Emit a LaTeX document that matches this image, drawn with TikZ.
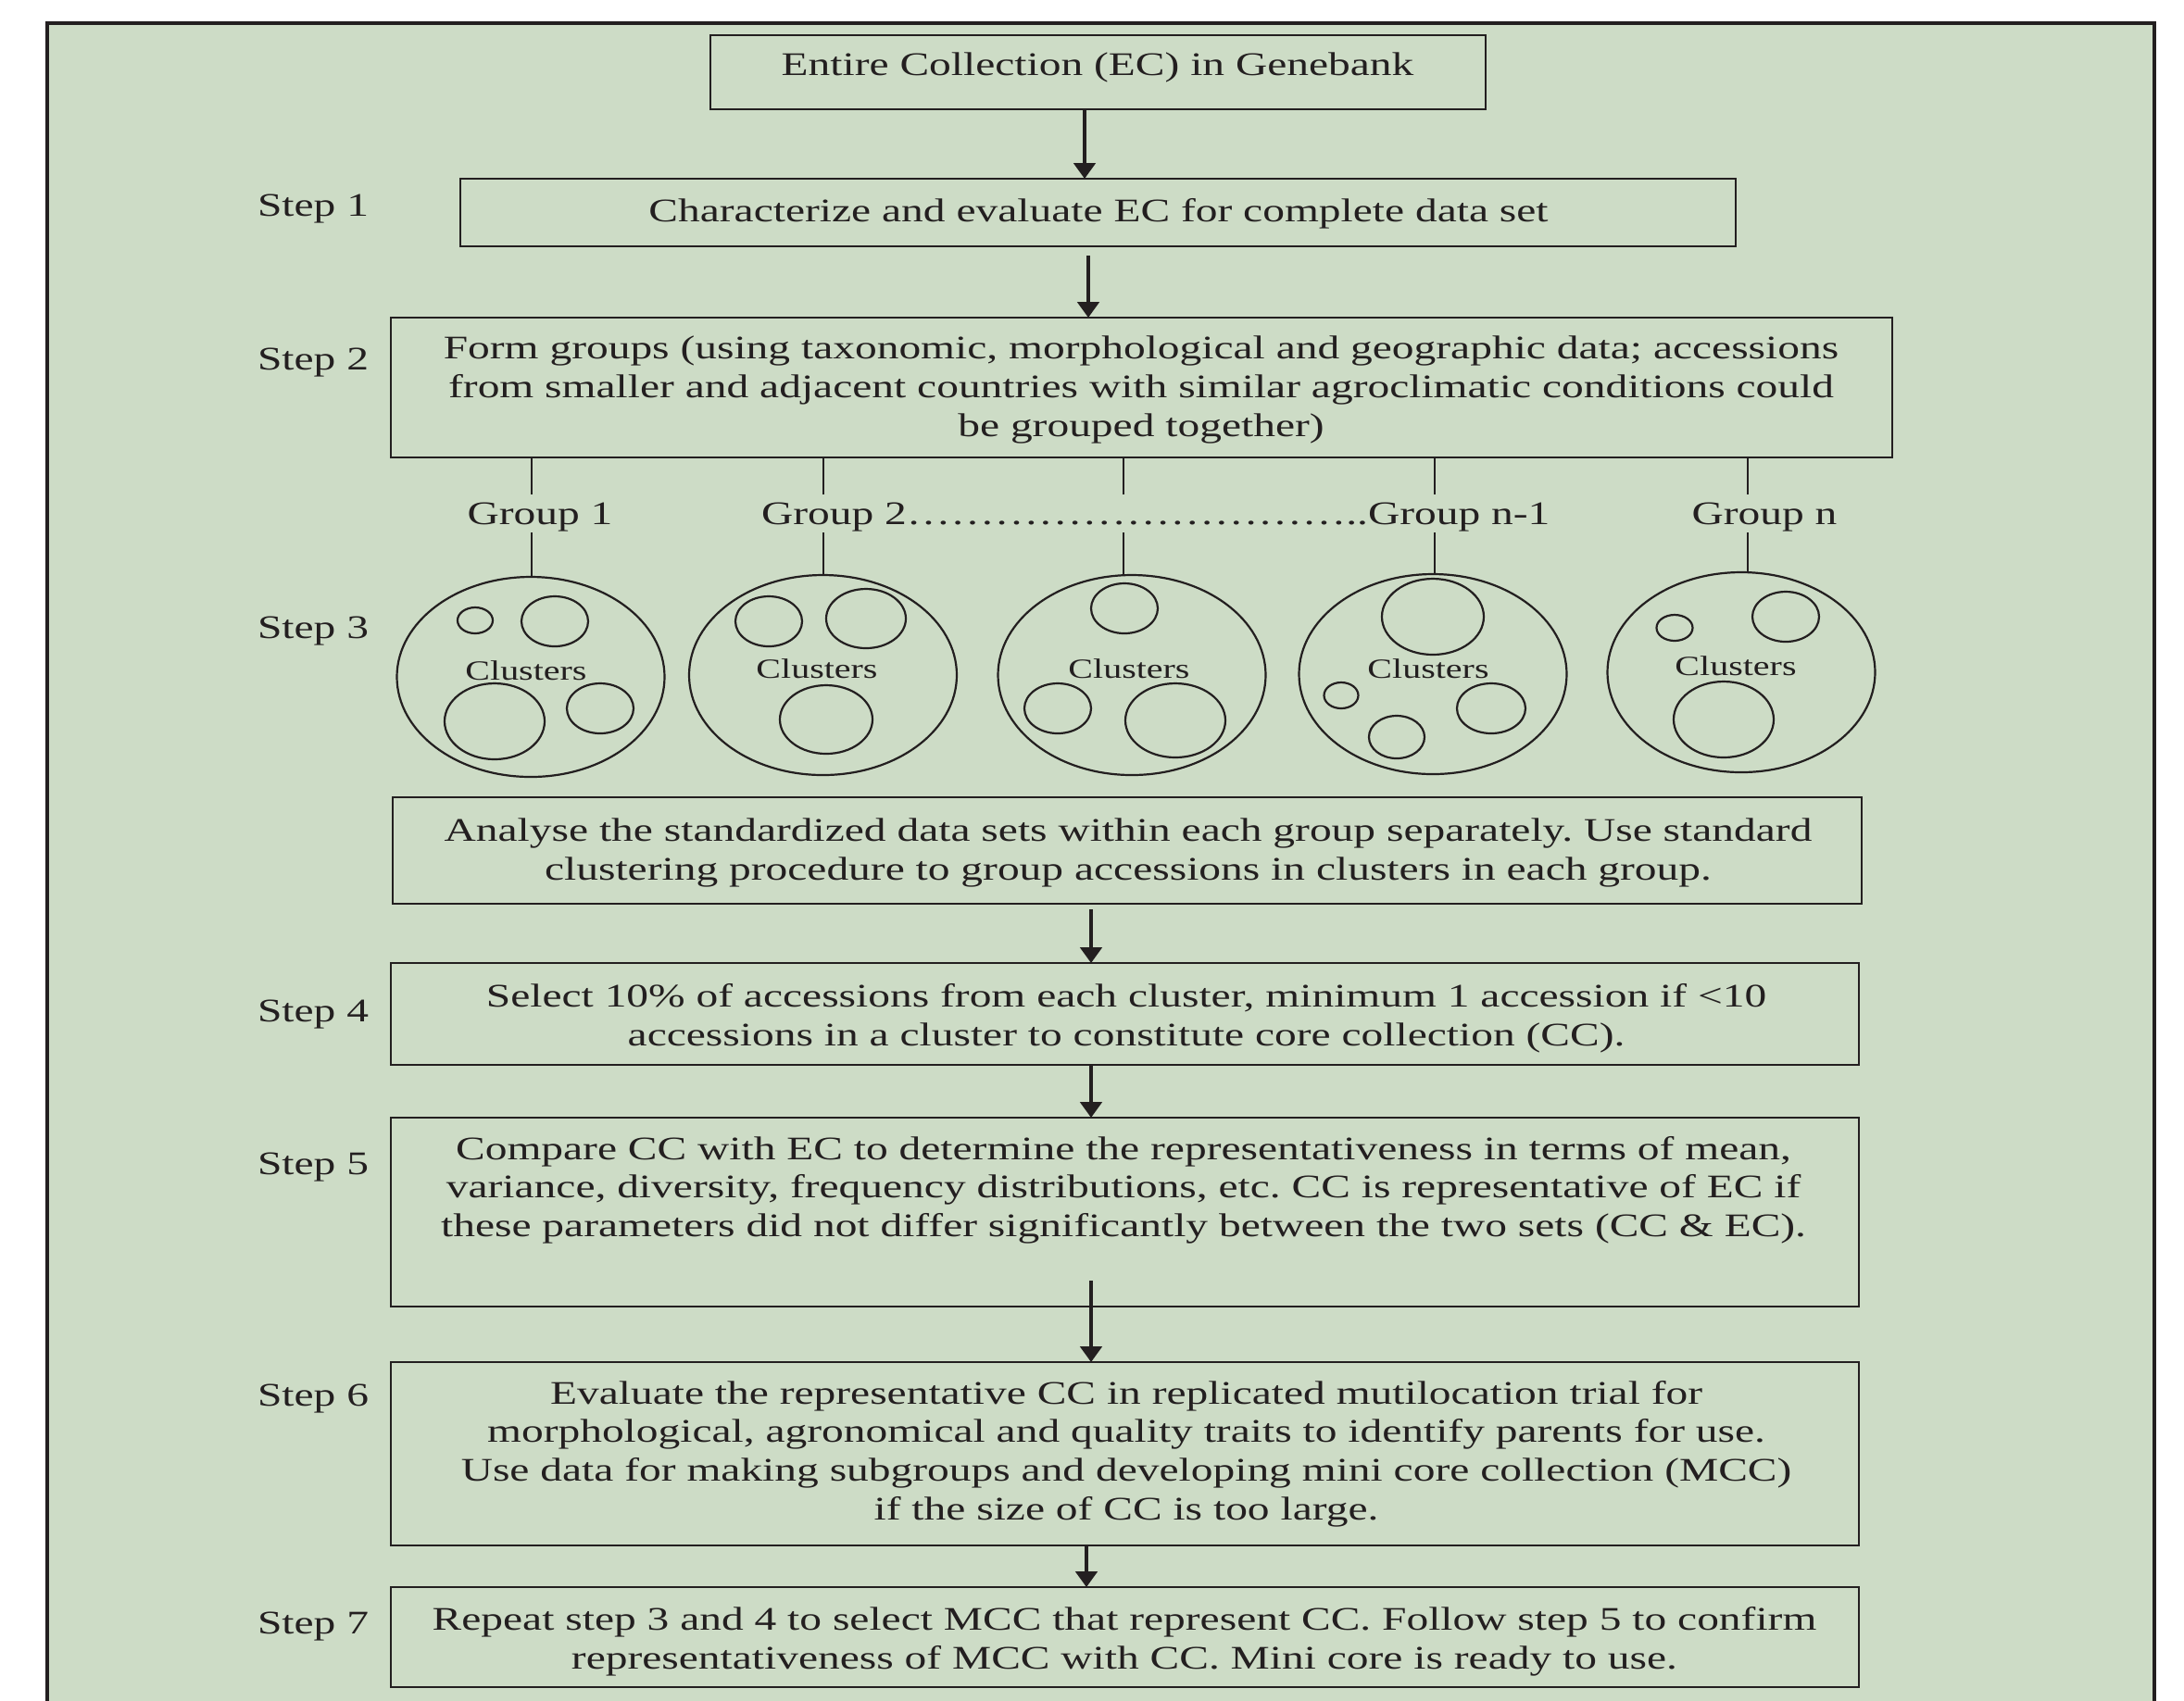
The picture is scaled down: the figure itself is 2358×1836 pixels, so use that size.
\documentclass[tikz,border=0pt]{standalone}
\usepackage{fontspec}
\setmainfont{Liberation Serif}[FakeStretch=1.333]
\usetikzlibrary{arrows.meta,shapes.geometric}
\definecolor{bgreen}{RGB}{205,220,198}
\definecolor{ink}{RGB}{35,31,32}
\newcommand\elch{\symbol{"2026}}
\newcommand\elrun{\elch\elch\elch\elch\elch\elch\elch\elch\elch\elch}
\begin{document}
\begin{tikzpicture}[x=0.25pt,y=-0.25pt,
  every node/.style={inner sep=0pt,outer sep=0pt,text=ink,font=\fontsize{8.9}{10.4}\selectfont\frenchspacing},
  stepbox/.style={draw=ink,line width=0.65pt,rectangle,minimum width=396.25pt},
  boxtext/.style={align=center},
  flow/.style={draw=ink,line width=0.9pt,-{Triangle[length=4.2pt,width=5.8pt]}},
  stub/.style={draw=ink,line width=0.5pt},
  groupoval/.style={draw=ink,line width=0.55pt,ellipse,minimum width=72.25pt,minimum height=54pt},
  cluster/.style={draw=ink,line width=0.55pt},
  clusterlabel/.style={font=\fontsize{7.5}{9}\selectfont}
]
\useasboundingbox (0,0) rectangle (2358,1836);
\fill[white] (0,0) rectangle (2358,1836);
\begin{scope}
\clip (0,0) rectangle (2358,1836);
\draw[draw=ink,line width=0.8pt,fill=bgreen] (51,25) rectangle (2326,1900);
\end{scope}

% ---- boxes
\node[stepbox,minimum width=209.25pt,minimum height=20pt] (ec) at (1185.5,78) {};
\node[boxtext] (ect) at (1185,73) {Entire Collection (EC) in Genebank};

\node[stepbox,minimum width=344.25pt,minimum height=18.25pt] (s1) at (1185.5,229.5) {};
\node[boxtext] (s1t) at (1186,231) {Characterize and evaluate EC for complete data set};

\node[stepbox,minimum width=405.25pt,minimum height=37.75pt] (s2) at (1232.5,418.5) {};
\node[boxtext] (s2t) at (1232,421) {Form groups (using taxonomic, morphological and geographic data; accessions\\
from smaller and adjacent countries with similar agroclimatic conditions could\\
be grouped together)};

\node[stepbox,minimum width=396.5pt,minimum height=28.75pt] (s3) at (1217,918.5) {};
\node[boxtext] (s3t) at (1218,921) {Analyse the standardized data sets within each group separately. Use standard\\
clustering procedure to group accessions in clusters in each group.};

\node[stepbox,minimum height=27.5pt] (s4) at (1214.5,1095) {};
\node[boxtext] (s4t) at (1216,1100) {Select 10\% of accessions from each cluster, minimum 1 accession if <10\\
accessions in a cluster to constitute core collection (CC).};

\node[stepbox,minimum height=51pt] (s5) at (1214.5,1309) {};
\node[boxtext] (s5t) at (1213,1285) {Compare CC with EC to determine the representativeness in terms of mean,\\
variance, diversity, frequency distributions, etc. CC is representative of EC if\\
these parameters did not differ significantly between the two sets (CC \& EC).};

\node[stepbox,minimum height=49.5pt] (s6) at (1214.5,1570) {};
\node[boxtext] (s6t) at (1216,1570) {Evaluate the representative CC in replicated mutilocation trial for\\
morphological, agronomical and quality traits to identify parents for use.\\
Use data for making subgroups and developing mini core collection (MCC)\\
if the size of CC is too large.};

\node[stepbox,minimum height=27pt] (s7) at (1214.5,1768) {};
\node[boxtext] (s7t) at (1214,1773) {Repeat step 3 and 4 to select MCC that represent CC. Follow step 5 to confirm\\
representativeness of MCC with CC. Mini core is ready to use.};

% ---- step labels
\node (l1) at (338,225) {Step 1};
\node (l2) at (338,391) {Step 2};
\node (l3) at (338,681) {Step 3};
\node (l4) at (338,1095) {Step 4};
\node (l5) at (338,1260) {Step 5};
\node (l6) at (338,1510) {Step 6};
\node (l7) at (338,1756) {Step 7};

% ---- arrows
\coordinate (ax1) at (1171,0);
\coordinate (ax2) at (1175,0);
\coordinate (ax3) at (1178,0);
\coordinate (ax6) at (1173,0);
\coordinate (a5start) at (1178,1383);
\draw[flow] (ec.south -| ax1) -- (s1.north -| ax1);
\draw[flow,shorten <=2.5pt] (s1.south -| ax2) -- (s2.north -| ax2);
\draw[flow,shorten <=1.5pt] (s3.south -| ax3) -- (s4.north -| ax3);
\draw[flow] (s4.south -| ax3) -- (s5.north -| ax3);
\draw[flow] (a5start) -- (s6.north -| a5start);
\draw[flow] (s6.south -| ax6) -- (s7.north -| ax6);

% ---- group ovals
\node[groupoval] (g1) at (573,731) {};
\node[groupoval] (g2) at (888.5,729) {};
\node[groupoval] (g3) at (1222,729) {};
\node[groupoval] (g4) at (1547,728) {};
\node[groupoval] (g5) at (1880,726) {};

% ---- group labels
\node (gl1) at (583,558) {Group 1};
\node[anchor=west] (gl2) at (822,558) {Group 2\elrun..Group n-1};
\node (gl5) at (1905,558) {Group n};

% ---- stubs
\foreach \i/\x in {1/574,2/889,3/1213,4/1549,5/1887}{
  \coordinate (u\i) at (\x,534);
  \coordinate (w\i) at (\x,575);
  \draw[stub] (s2.south -| u\i) -- (u\i);
  \draw[stub] (w\i) -- (w\i |- g\i.north);
}

% ---- clusters
\node[clusterlabel] (c1) at (568,724) {Clusters};
\node[clusterlabel] (c2) at (882,722) {Clusters};
\node[clusterlabel] (c3) at (1219,722) {Clusters};
\node[clusterlabel] (c4) at (1542,722) {Clusters};
\node[clusterlabel] (c5) at (1874,719) {Clusters};

\foreach \cx/\cy/\rx/\ry in {513/670/19/14, 599/671/36/27, 534/779/54/41, 648/765/36/27,
  830/671/36/27, 935/668/43/32, 892/777/50/37,
  1214/657/36/27, 1142/765/36/27, 1269/778/54/40,
  1547/666/55/41, 1448/751/18.5/14, 1508/796/30/23, 1610/765/37/27,
  1808/678/19.5/14, 1928/666/36/27, 1861/777/54/41}{
  \draw[cluster] (\cx,\cy) ellipse [x radius=\rx, y radius=\ry];
}
\end{tikzpicture}
\end{document}
